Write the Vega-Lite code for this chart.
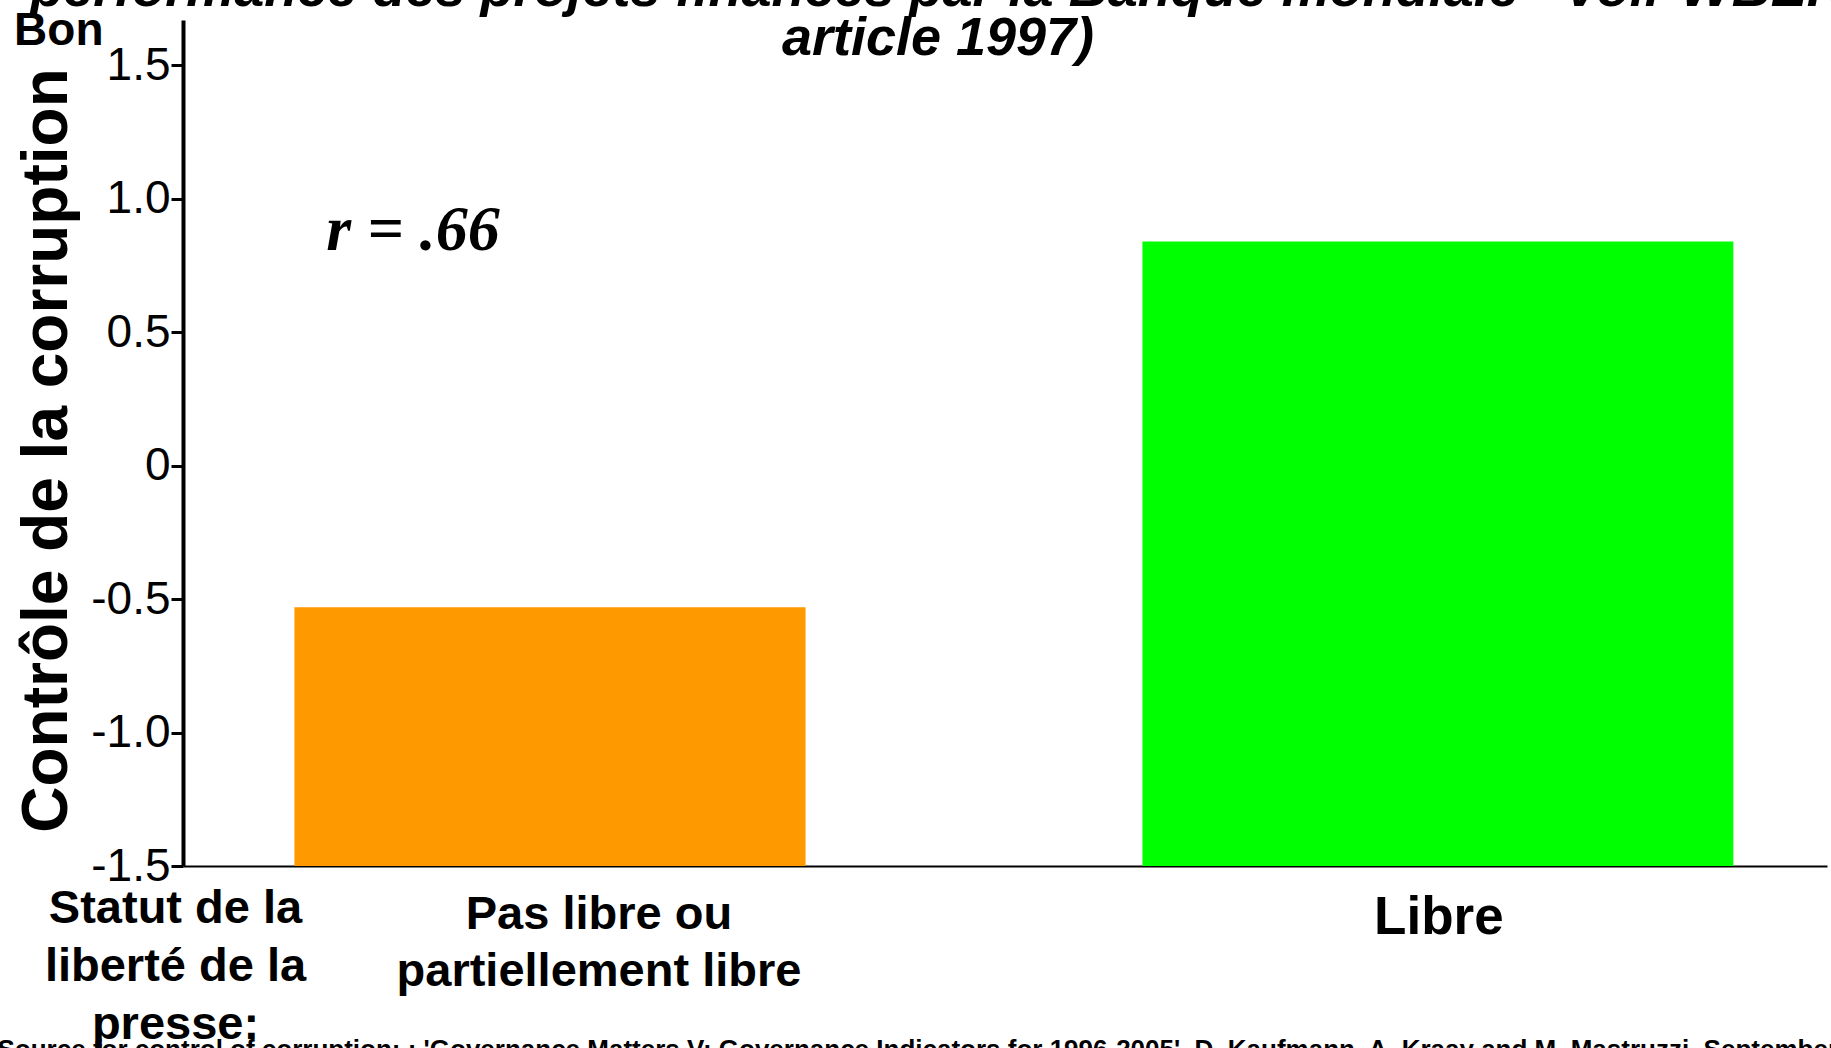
{
  "$schema": "https://vega.github.io/schema/vega-lite/v6.json",
  "width": 1644,
  "height": 846,
  "autosize": "none",
  "padding": {"left": 183, "top": 20, "right": 4, "bottom": 182},
  "background": "white",
  "config": {"view": {"stroke": null}, "font": "Liberation Sans"},
  "title": {
    "text": ["performance des projets financés par la Banque mondiale - voir WBER", "article 1997)"],
    "font": "Liberation Sans",
    "fontSize": 54,
    "fontWeight": "bold",
    "fontStyle": "italic",
    "lineHeight": 49,
    "anchor": "middle",
    "frame": "group",
    "dx": -67,
    "dy": 113,
    "offset": 0,
    "baseline": "bottom",
    "color": "black"
  },
  "data": {"values": [
    {"statut": "Pas libre ou partiellement libre", "controle": -0.53},
    {"statut": "Libre", "controle": 0.84}
  ]},
  "layer": [
    {
      "transform": [{"filter": "datum.statut == 'Pas libre ou partiellement libre'"}],
      "mark": {"type": "bar", "width": {"band": 0.865}},
      "encoding": {
        "x": {
          "field": "statut", "type": "nominal",
          "scale": {"domain": ["Pas libre ou partiellement libre", "Libre"], "paddingInner": 0.3345, "paddingOuter": 0.093, "align": 0.433},
          "axis": {
            "title": ["Statut de la", "liberté de la", "presse:"],
            "titleFont": "Liberation Sans", "titleFontSize": 47, "titleFontWeight": "bold", "titleColor": "black",
            "titleX": -8, "titleY": 19, "titleAlign": "center", "titleBaseline": "top", "titleLineHeight": 58,
            "labelExpr": "datum.value == 'Libre' ? 'Libre' : ['Pas libre ou', 'partiellement libre']",
            "labelFont": "Liberation Sans",
            "labelFontSize": {"condition": {"test": "datum.value == 'Libre'", "value": 53}, "value": 47},
            "labelFontWeight": "bold", "labelColor": "black", "labelAngle": 0,
            "labelPadding": 25, "labelLineHeight": 57,
            "labelOffset": {"condition": {"test": "datum.value == 'Libre'", "value": 1}, "value": 49},
            "labelBaseline": "top", "ticks": false,
            "domainColor": "black", "domainWidth": 2,
            "labelBound": false, "labelOverlap": false, "labelLimit": 0
          }
        },
        "y": {
          "field": "controle", "type": "quantitative",
          "scale": {"domain": [-1.5, 1.67], "nice": false, "zero": false},
          "axis": {
            "title": "Contrôle de la corruption",
            "titleFont": "Liberation Sans", "titleFontSize": 64, "titleFontWeight": "bold", "titleColor": "black",
            "titleAngle": -90, "titleX": -117, "titleY": 430, "titleBaseline": "alphabetic", "titleAlign": "center",
            "values": [-1.5, -1, -0.5, 0, 0.5, 1, 1.5, 1.67],
            "labelExpr": "datum.value > 1.6 ? 'Bon' : datum.value == 0 ? '0' : replace(format(datum.value, '.1f'), '\u2212', '-')",
            "labelFont": "Liberation Sans",
            "labelFontSize": {"condition": {"test": "datum.value > 1.6", "value": 46}, "value": 46},
            "labelFontWeight": {"condition": {"test": "datum.value > 1.6", "value": "bold"}, "value": "normal"},
            "labelPadding": {"condition": {"test": "datum.value > 1.6", "value": 68}, "value": 1},
            "labelBaseline": {"condition": {"test": "datum.value > 1.6", "value": "alphabetic"}, "value": "middle"},
            "labelOffset": {"condition": {"test": "datum.value > 1.6", "value": 24}, "value": 0},
            "tickOpacity": {"condition": {"test": "datum.value > 1.6", "value": 0}, "value": 1},
            "tickSize": 12, "tickWidth": 3, "tickColor": "black",
            "domainColor": "black", "domainWidth": 4, "grid": false,
            "labelColor": "black", "labelOverlap": false, "labelBound": false, "labelFlush": false
          }
        },
        "y2": {"datum": -1.5},
        "color": {"field": "statut", "type": "nominal", "scale": {"domain": ["Pas libre ou partiellement libre", "Libre"], "range": ["#FF9900", "#00FF00"]}, "legend": null}
      }
    },
    {
      "transform": [{"filter": "datum.statut == 'Libre'"}],
      "mark": {"type": "bar", "width": {"band": 1}},
      "encoding": {
        "x": {"field": "statut", "type": "nominal"},
        "y": {"field": "controle", "type": "quantitative"},
        "y2": {"datum": -1.5},
        "color": {"field": "statut", "type": "nominal", "legend": null}
      }
    },
    {
      "data": {"values": [{"label": "r = .66"}]},
      "mark": {"type": "text", "font": "Liberation Serif", "fontSize": 64, "fontWeight": "bold", "fontStyle": "italic", "align": "center", "baseline": "alphabetic", "dx": -137, "color": "black"},
      "encoding": {
        "text": {"field": "label"},
        "x": {"datum": "Pas libre ou partiellement libre", "type": "nominal"},
        "y": {"datum": 0.81, "type": "quantitative"}
      }
    },
    {
      "data": {"values": [{"label": "Source for control of corruption: : 'Governance Matters V: Governance Indicators for 1996-2005', D. Kaufmann, A. Kraay and M. Mastruzzi, September 2006"}]},
      "mark": {"type": "text", "font": "Liberation Sans", "fontSize": 26, "fontWeight": "bold", "align": "left", "baseline": "alphabetic", "dx": -257, "color": "black"},
      "encoding": {
        "text": {"field": "label"},
        "x": {"datum": "Pas libre ou partiellement libre", "type": "nominal", "bandPosition": 0},
        "y": {"datum": -2.22, "type": "quantitative"}
      }
    }
  ]
}
